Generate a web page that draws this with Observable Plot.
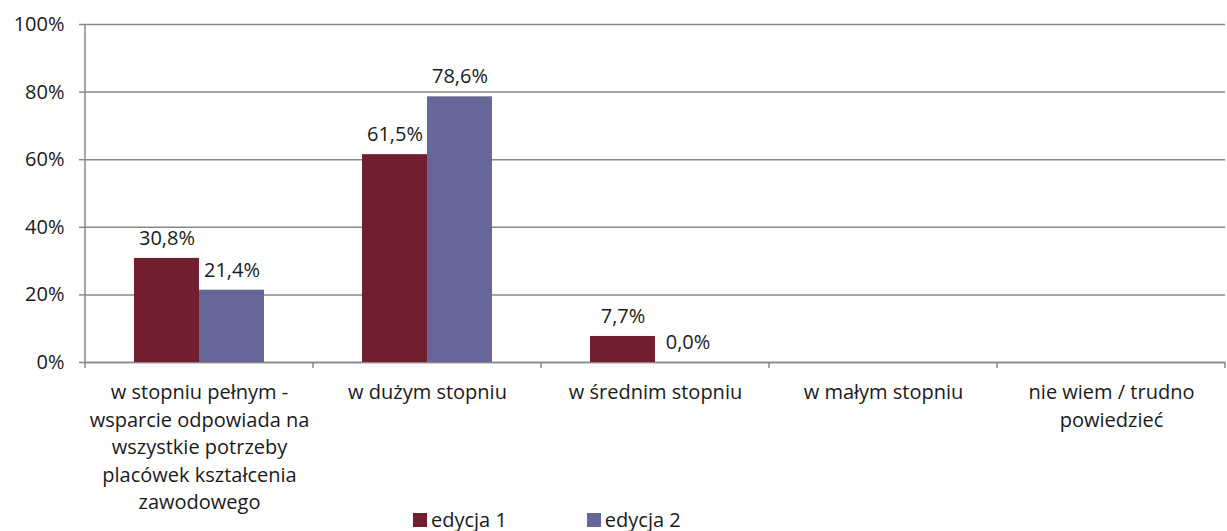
<!DOCTYPE html>
<html><head><meta charset="utf-8">
<script src="https://cdn.jsdelivr.net/npm/d3@7"></script>
<script src="https://cdn.jsdelivr.net/npm/@observablehq/plot@0.6"></script>
<style>
body{margin:0;background:#fff;font-family:"Open Sans",sans-serif;}
#chart{width:1227px;}
#chart svg{overflow:visible;display:block;}
.legend{display:flex;height:23px;align-items:center;padding-left:413px;font-size:20px;color:#1a1a1a;font-family:"Open Sans",sans-serif;}
.item{display:flex;align-items:center;margin-right:80px;}
.sw{width:14px;height:14px;margin-right:4px;}
</style></head><body><div id="chart"></div>
<script>
const categories = [
  "w stopniu pełnym - wsparcie odpowiada na wszystkie potrzeby placówek kształcenia zawodowego",
  "w dużym stopniu",
  "w średnim stopniu",
  "w małym stopniu",
  "nie wiem / trudno powiedzieć"
];
const tickLabels = [
  "w stopniu pełnym -\nwsparcie odpowiada na\nwszystkie potrzeby\nplacówek kształcenia\nzawodowego",
  "w dużym stopniu",
  "w średnim stopniu",
  "w małym stopniu",
  "nie wiem / trudno\npowiedzieć"
];
const series = ["edycja 1", "edycja 2"];
const edycja1 = [30.8, 61.5, 7.7, null, null];
const edycja2 = [21.4, 78.6, 0.0, null, null];
const colors = ["#711E2E", "#666699"];
const yTicks = [0, 20, 40, 60, 80, 100];

const rows = [];
categories.forEach((c, i) => {
  [edycja1, edycja2].forEach((arr, j) => {
    if (arr[i] != null) rows.push({category: c, series: series[j], value: arr[i]});
  });
});
const fmt = v => v.toFixed(1).replace(".", ",") + "%";
const labelOf = new Map(categories.map((c, i) => [c, tickLabels[i]]));
const catRows = categories.map(c => ({category: c}));

const plot = Plot.plot({
  width: 1227, height: 508,
  marginLeft: 83, marginRight: 0, marginTop: 24, marginBottom: 146,
  style: {fontFamily: "'Open Sans', sans-serif", fontSize: "20px", color: "#1a1a1a", background: "#fff"},
  fx: {domain: categories, padding: 0, label: null},
  x: {domain: series, paddingInner: 0, paddingOuter: 0.746, axis: null},
  y: {domain: [0, 100], label: null},
  color: {domain: series, range: colors},
  marks: [
    Plot.ruleY(catRows, {fx: "category", y: 0, stroke: "#888", strokeWidth: 1.5}),
    Plot.gridY(yTicks, {stroke: "#888", strokeOpacity: 1, strokeWidth: 1.5}),
    Plot.barY(rows, {fx: "category", x: "series", y: "value", fill: "series"}),
    Plot.text(rows, {fx: "category", x: "series", y: "value", text: d => fmt(d.value), dy: -20, fill: "#1a1a1a"}),
    Plot.axisY(yTicks, {tickSize: 6, tickPadding: 15, tickFormat: d => d + "%", stroke: "#888", strokeWidth: 1.5, label: null}),
    Plot.axisFx({anchor: "bottom", tickSize: 0, tickPadding: 17, tickFormat: d => labelOf.get(d), lineHeight: 1.375, label: null})
  ]
});

// axis line and category boundary ticks from the library's scales
const fx = plot.scale("fx"), y = plot.scale("y");
const y0 = y.apply(0), y100 = y.apply(100);
const bounds = categories.map(c => fx.apply(c));
bounds.push(fx.apply(categories[categories.length - 1]) + fx.bandwidth);
const g = d3.select(plot).append("g").attr("stroke", "#888").attr("stroke-width", 1.5);
g.append("line").attr("x1", bounds[0]).attr("x2", bounds[0]).attr("y1", y100).attr("y2", y0);
bounds.forEach(b => g.append("line").attr("x1", b).attr("x2", b).attr("y1", y0).attr("y2", y0 + 6));

document.getElementById("chart").appendChild(plot);

const legend = d3.select("#chart").append("div").attr("class", "legend");
series.forEach((s, i) => {
  const it = legend.append("div").attr("class", "item");
  it.append("div").attr("class", "sw").style("background", colors[i]);
  it.append("span").text(s);
});
</script></body></html>
